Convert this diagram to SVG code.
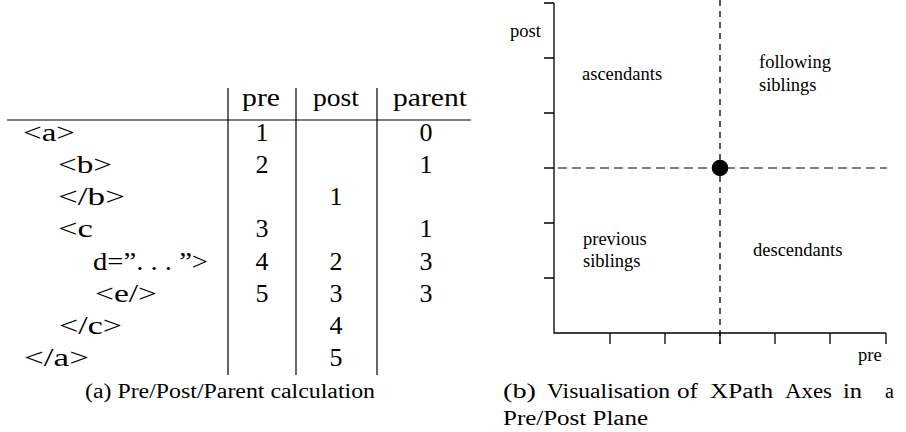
<svg xmlns="http://www.w3.org/2000/svg" width="906" height="432" viewBox="0 0 906 432">
  <style>
    .tbl { font-family: "Liberation Serif", "Times New Roman", serif; font-size: 26px; fill: #000; }
    .num { text-anchor: middle; }
    .cap { font-family: "Liberation Serif", "Times New Roman", serif; font-size: 20px; fill: #000; }
    .lbl { font-family: "Liberation Serif", "Times New Roman", serif; font-size: 18.5px; fill: #000; }
    .rule { stroke: #000; stroke-width: 1.2; fill: none; }
    .axis { stroke: #000; stroke-width: 1.3; fill: none; }
    .hdash { stroke: #555; stroke-width: 1.5; stroke-dasharray: 9 5; fill: none; }
    .vdash { stroke: #000; stroke-width: 1.3; stroke-dasharray: 6 5; fill: none; }
  </style>

  <!-- (a) pre/post/parent table -->
  <g id="table">
    <g id="table-rules">
      <line class="rule" x1="7" y1="120" x2="471" y2="120"/>
      <line class="rule" x1="228" y1="88" x2="228" y2="375"/>
      <line class="rule" x1="296" y1="88" x2="296" y2="375"/>
      <line class="rule" x1="377" y1="88" x2="377" y2="375"/>
    </g>
    <g id="table-header" class="tbl">
      <text x="242" y="106" textLength="38" lengthAdjust="spacingAndGlyphs">pre</text>
      <text x="313" y="106" textLength="46" lengthAdjust="spacingAndGlyphs">post</text>
      <text x="393" y="106" textLength="74" lengthAdjust="spacingAndGlyphs">parent</text>
    </g>
    <g id="table-tags" class="tbl">
      <text x="23" y="141" textLength="52" lengthAdjust="spacingAndGlyphs">&lt;a&gt;</text>
      <text x="58" y="173" textLength="54" lengthAdjust="spacingAndGlyphs">&lt;b&gt;</text>
      <text x="58" y="205" textLength="67" lengthAdjust="spacingAndGlyphs">&lt;/b&gt;</text>
      <text x="58" y="237" textLength="35" lengthAdjust="spacingAndGlyphs">&lt;c</text>
      <text x="93" y="270" textLength="115" lengthAdjust="spacingAndGlyphs">d=”. . . ”&gt;</text>
      <text x="95" y="302" textLength="62" lengthAdjust="spacingAndGlyphs">&lt;e/&gt;</text>
      <text x="59" y="334" textLength="63" lengthAdjust="spacingAndGlyphs">&lt;/c&gt;</text>
      <text x="24" y="366" textLength="65" lengthAdjust="spacingAndGlyphs">&lt;/a&gt;</text>
    </g>
    <g id="table-pre" class="tbl num">
      <text x="262" y="141">1</text>
      <text x="262" y="173">2</text>
      <text x="262" y="237">3</text>
      <text x="262" y="270">4</text>
      <text x="262" y="302">5</text>
    </g>
    <g id="table-post" class="tbl num">
      <text x="336" y="205">1</text>
      <text x="336" y="270">2</text>
      <text x="336" y="302">3</text>
      <text x="336" y="334">4</text>
      <text x="336" y="366">5</text>
    </g>
    <g id="table-parent" class="tbl num">
      <text x="426" y="141">0</text>
      <text x="426" y="173">1</text>
      <text x="426" y="237">1</text>
      <text x="426" y="270">3</text>
      <text x="426" y="302">3</text>
    </g>
    <text id="caption-a" class="cap" x="85" y="398" textLength="290" lengthAdjust="spacingAndGlyphs">(a) Pre/Post/Parent calculation</text>
  </g>

  <!-- (b) pre/post plane -->
  <g id="plane">
    <g id="axes">
      <path class="axis" d="M554 3 V333 H886"/>
      <path class="axis" d="M544 3 H554 M544 58 H554 M544 113 H554 M544 168 H554 M544 223 H554 M544 278 H554"/>
      <path class="axis" d="M610 333 V344 M665 333 V344 M720 333 V344 M775 333 V344 M830 333 V344 M886 333 V344"/>
    </g>
    <g id="connectors">
      <line class="hdash" x1="544" y1="168" x2="887" y2="168"/>
      <line class="vdash" x1="720" y1="0" x2="720" y2="344"/>
    </g>
    <g id="context-node">
      <circle cx="720" cy="168" r="8.3" fill="#000"/>
    </g>
    <g id="axis-labels" class="lbl">
      <text x="510" y="37">post</text>
      <text x="858" y="361">pre</text>
    </g>
    <g id="region-ascendants" class="lbl">
      <text x="582" y="80">ascendants</text>
    </g>
    <g id="region-following" class="lbl">
      <text x="759" y="68">following</text>
      <text x="759" y="91">siblings</text>
    </g>
    <g id="region-previous" class="lbl">
      <text x="583" y="245">previous</text>
      <text x="583" y="267">siblings</text>
    </g>
    <g id="region-descendants" class="lbl">
      <text x="753" y="256">descendants</text>
    </g>
    <text id="caption-b1" class="cap" y="398"><tspan x="503" textLength="33" lengthAdjust="spacingAndGlyphs">(b)</tspan><tspan x="547" textLength="123" lengthAdjust="spacingAndGlyphs">Visualisation</tspan><tspan x="677" textLength="21" lengthAdjust="spacingAndGlyphs">of</tspan><tspan x="710" textLength="63" lengthAdjust="spacingAndGlyphs">XPath</tspan><tspan x="785" textLength="47" lengthAdjust="spacingAndGlyphs">Axes</tspan><tspan x="843" textLength="19" lengthAdjust="spacingAndGlyphs">in</tspan><tspan x="885">a</tspan></text>
    <text id="caption-b2" class="cap" x="503" y="425" textLength="145" lengthAdjust="spacingAndGlyphs">Pre/Post Plane</text>
  </g>
</svg>
